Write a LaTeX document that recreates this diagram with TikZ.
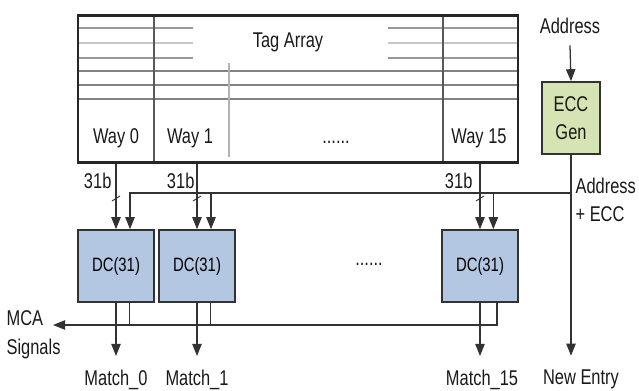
\documentclass[tikz,border=0pt]{standalone}
\usepackage{fontspec}
\setmainfont{Liberation Sans}[FakeStretch=0.77]
\usetikzlibrary{arrows.meta}
\definecolor{dcblue}{RGB}{180,199,226}
\definecolor{eccgreen}{RGB}{214,227,178}
\definecolor{wiregray}{RGB}{50,50,50}
\definecolor{cellgray}{RGB}{130,130,130}
\begin{document}
\begin{tikzpicture}[x=0.75pt, y=-0.75pt,
    wire/.style={line width=0.95pt, draw=wiregray},
    arr/.style={wire, -{Triangle[length=9pt, width=7pt]}},
    lbl/.style={font=\fontsize{16}{21.5}\selectfont, text=black!90, inner sep=1pt},
    block/.style={draw=wiregray, line width=1.2pt, minimum width=57pt,
      minimum height=54pt, inner sep=0pt},
    cell/.style={draw=cellgray, line width=0.9pt}]
  \useasboundingbox (0,0) rectangle (639,390);

  % Tag array cells
  \draw[cell, draw=black!40] (78,28) -- (193,28) (388,28) -- (518,28);
  \draw[cell, draw=black!22, line width=2pt] (78,43) -- (193,43) (388,43) -- (518,43);
  \draw[cell, draw=black!40] (78,58) -- (193,58) (388,58) -- (518,58);
  \foreach \y in {71,85,99}
    \draw[cell] (78,\y) -- (518,\y);
  \draw[cell, draw=black!65] (154,15) -- (154,162) (443,15) -- (443,162);
  \draw[cell, draw=black!30] (229,63) -- (229,157);
  \node[draw=black!85, line width=2pt, minimum width=330pt, minimum height=110pt,
    inner sep=0pt] (tag) at (298,89) {};
  \node[lbl] (tagname) at (288,42) {Tag Array};
  \node[lbl, anchor=base] (way0) at (116,143) {Way 0};
  \node[lbl, anchor=base] (way1) at (190,143) {Way 1};
  \node[lbl, anchor=base] (waydots) at (336,143) {......};
  \node[lbl, anchor=base] (way15) at (479,143) {Way 15};

  % ECC generator
  \node[lbl, anchor=base, inner ysep=9pt] (addr) at (570,33) {Address};
  \node[block, lbl, fill=eccgreen, minimum width=43.5pt, align=center] (ecc) at (571,118) {ECC\\Gen};
  \draw[arr] (addr.south) -- (ecc.north);

  % Comparators
  \node[block, fill=dcblue, font=\fontsize{14.5}{16}\selectfont] (dc0) at (116,266) {DC(31)};
  \node[block, fill=dcblue, font=\fontsize{14.5}{16}\selectfont] (dc1) at (197,266) {DC(31)};
  \node[block, fill=dcblue, font=\fontsize{14.5}{16}\selectfont] (dc15) at (480,266) {DC(31)};
  \node[lbl] (dcdots) at (369,264) {......};

  % Tag bits
  \foreach \d in {dc0,dc1,dc15}
    \draw[arr] (tag.south -| \d.north) -- (\d.north);
  \node[lbl, anchor=base east] (b0) at (113,188) {31b};
  \node[lbl, anchor=base east] (b1) at (196,188) {31b};
  \node[lbl, anchor=base east] (b15) at (474,188) {31b};
  \foreach \x in {116,197,480}
    \draw[wire, line width=0.7pt] (\x-4,201) -- (\x+4,196);

  % Address + ECC bus
  \coordinate (bus) at (571,193);
  \coordinate (dc0in) at ([xshift=10.5pt]dc0.north);
  \coordinate (dc1in) at ([xshift=10.5pt]dc1.north);
  \coordinate (dc15in) at ([xshift=10pt]dc15.north);
  \draw[arr] (bus) -| (dc0in);
  \draw[arr] (dc1in |- bus) -- (dc1in);
  \draw[arr] (dc15in |- bus) -- (dc15in);
  \node[lbl, align=left, anchor=west] (busname) at (574,200) {Address\\+ ECC};

  % Outputs
  \node[lbl, anchor=base, inner ysep=10pt] (m0) at (116,385) {Match\_0};
  \node[lbl, anchor=base, inner ysep=10pt] (m1) at (197,385) {Match\_1};
  \node[lbl, anchor=base, inner ysep=10pt] (m15) at (482,385) {Match\_15};
  \node[lbl, anchor=base, inner ysep=10pt] (newent) at (581,384) {New Entry};
  \draw[arr] (dc0.south) -- (dc0.south |- m0.north);
  \draw[arr] (dc1.south) -- (dc1.south |- m1.north);
  \draw[arr] (dc15.south) -- (dc15.south |- m15.north);
  \draw[arr] (ecc.south) -- (ecc.south |- newent.north);

  % MCA signals
  \node[lbl, align=left, anchor=west] (mca) at (5,335) {MCA\\Signals};
  \coordinate (mcatip) at (53,325);
  \coordinate (dc0out) at ([xshift=10pt]dc0.south);
  \coordinate (dc1out) at ([xshift=10pt]dc1.south);
  \coordinate (dc15out) at ([xshift=12.75pt]dc15.south);
  \draw[arr] (dc15out) |- (mcatip);
  \draw[wire] (dc0out) -- (dc0out |- mcatip);
  \draw[wire] (dc1out) -- (dc1out |- mcatip);
\end{tikzpicture}
\end{document}
